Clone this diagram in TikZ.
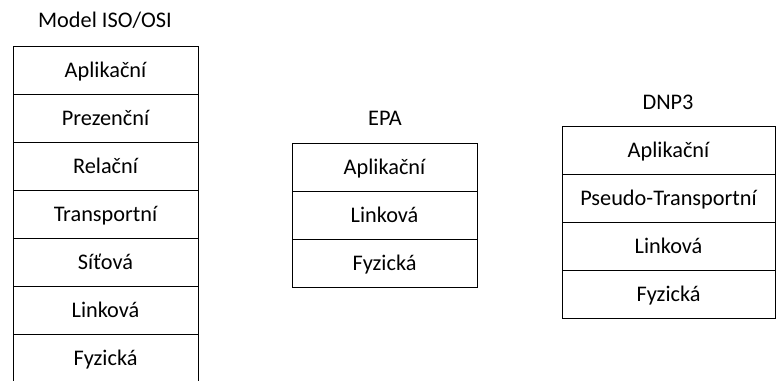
\documentclass[tikz,border=0pt]{standalone}
\usepackage{fontspec}
\setmainfont{Carlito}
\begin{document}
\begin{tikzpicture}[x=1pt,y=-1pt,
    layer/.style={draw,line width=1pt,minimum width=185pt,minimum height=48pt,inner sep=0pt,
        text height=18pt,text depth=3pt,font=\fontsize{22.3}{26}\selectfont},
    title/.style={font=\fontsize{22.3}{26}\selectfont}]

    % Picture frame
    \clip (0,0) rectangle (776,380);

    % Model ISO/OSI
    \node[title] (osititle) at (105,20) {Model ISO/OSI};
    \foreach \t [count=\i] in {Aplikační,Prezenční,Relační,Transportní,Síťová,Linková,Fyzická} {
        \node[layer] (osi\i) at (105.5,22+48*\i) {\t};
    }

    % EPA
    \node[title] (epatitle) at (385,118) {EPA};
    \foreach \t [count=\i] in {Aplikační,Linková,Fyzická} {
        \node[layer] (epa\i) at (384.5,119+48*\i) {\t};
    }

    % DNP3
    \node[title] (dnptitle) at (668,102) {DNP3};
    \foreach \t [count=\i] in {Aplikační,Pseudo-Transportní,Linková,Fyzická} {
        \node[layer,minimum width=213pt] (dnp\i) at (668.5,102+48*\i) {\t};
    }

\end{tikzpicture}
\end{document}
